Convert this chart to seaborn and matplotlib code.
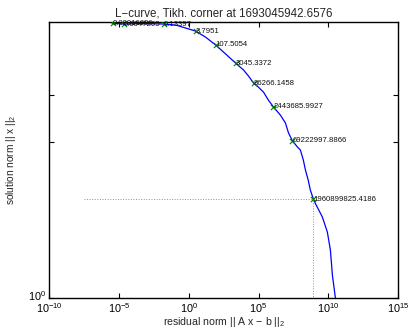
import numpy as np
import pandas as pd
import matplotlib
matplotlib.use("Agg")
import matplotlib.pyplot as plt
import matplotlib.transforms as mtransforms
import seaborn as sns

# L-curve samples: residual norm (rho) and solution norm (eta)
curve_rho = [3.2e-06, 2.3e-05, 3.7e-04, 1.6e-02, 1.2e-01, 6.2e-01, 3.16e+00,
             1.6e+01, 8.5e+01, 4.4e+02, 2.3e+03, 8.5e+03, 1.95e+04, 4.4e+04,
             1.0e+05, 2.3e+05, 5.1e+05, 1.17e+06, 3.7e+06, 8.5e+06, 1.4e+07,
             2.7e+07, 6.2e+07, 1.0e+08, 1.6e+08, 2.3e+08, 3.6e+08, 5.1e+08,
             8.5e+08, 1.35e+09, 3.7e+09, 8.5e+09, 1.4e+10, 1.95e+10,
             2.7e+10, 3.2e+10, 3.7e+10]
curve_eta = [1.995, 1.990, 1.993, 1.990, 1.985, 1.970, 1.955,
             1.926, 1.888, 1.846, 1.804, 1.773, 1.746, 1.716,
             1.698, 1.677, 1.644, 1.616, 1.583, 1.552, 1.514,
             1.484, 1.461, 1.450, 1.415, 1.379, 1.345, 1.312,
             1.282, 1.263, 1.226, 1.180, 1.128, 1.059,
             1.020, 1.000, 0.958]

# labelled regularization parameters and their points on the curve
marker_rho = [3.7e-06, 2.3e-05, 1.6e-02, 3.16e+00, 8.5e+01, 2.3e+03,
              4.4e+04, 1.17e+06, 2.7e+07, 8.5e+08]
marker_eta = [1.993, 1.990, 1.990, 1.955, 1.888, 1.804,
              1.716, 1.616, 1.484, 1.282]
marker_labels = ["0.00016696", "0.0047295", "0.13397", "3.7951", "107.5054",
                 "3045.3372", "86266.1458", "2443685.9927", "69222997.8866",
                 "1960899825.4186"]

corner_lambda = "1693045942.6576"
corner_rho = 8.5e+08
corner_eta = 1.282

sns.set_style("ticks")
plt.rcParams["font.family"] = ["Liberation Sans", "DejaVu Sans"]
plt.rcParams["mathtext.fontset"] = "custom"
plt.rcParams["mathtext.rm"] = "Liberation Sans"
plt.rcParams["mathtext.it"] = "Liberation Sans:italic"

fig = plt.figure(figsize=(4.08, 3.29), dpi=100)
ax = fig.add_axes([0.120, 0.094, 0.856, 0.839])

curve = pd.DataFrame({"rho": curve_rho, "eta": curve_eta})
marks = pd.DataFrame({"rho": marker_rho, "eta": marker_eta})

ax.set_xscale("log")
ax.set_yscale("log")

sns.lineplot(data=curve, x="rho", y="eta", sort=False, estimator=None,
             color="#0000ff", linewidth=0.9, ax=ax)
sns.scatterplot(data=marks, x="rho", y="eta", marker="x", color="#008000",
                s=14, linewidth=0.8, ax=ax, zorder=3)

for r, e, t in zip(marker_rho, marker_eta, marker_labels):
    ax.text(r, e, t, fontsize=5.6, ha="left", va="center", color="#111111")

# corner guide lines
rmin = min(curve_rho)
ax.plot([rmin / 100, corner_rho], [corner_eta, corner_eta], ":",
        color="#ff6060", linewidth=0.7)
ax.plot([corner_rho, corner_rho], [0.5, corner_eta], ":",
        color="#ff6060", linewidth=0.7)

ax.set_xlim(1e-10, 1e15)
ax.set_ylim(1.0, 2.0)
ax.set_xticks([1e-10, 1e-5, 1e0, 1e5, 1e10, 1e15])
ax.xaxis.set_minor_locator(matplotlib.ticker.NullLocator())
ax.set_yticks([1.0, 1.48, 1.665])
ax.set_yticklabels(["$10^0$", "", ""])
ax.yaxis.set_minor_locator(matplotlib.ticker.NullLocator())
ax.yaxis.set_minor_formatter(matplotlib.ticker.NullFormatter())

ax.tick_params(direction="in", length=3.5, width=0.8, labelsize=7.8,
               top=True, right=True, pad=2, colors="black")
# lift the y tick label slightly above its tick
lift = mtransforms.ScaledTranslation(0, 3 / 100, fig.dpi_scale_trans)
for lab in ax.get_yticklabels():
    lab.set_transform(lab.get_transform() + lift)
for s in ax.spines.values():
    s.set_visible(True)
    s.set_linewidth(1.0)
    s.set_color("black")

ax.set_xlabel("residual norm || A x \u2212 b ||$_2$", fontsize=7.6, labelpad=0)
ax.set_ylabel("solution norm || x ||$_2$", fontsize=7.3, labelpad=7)
ax.set_title("L\u2212curve, Tikh. corner at " + corner_lambda, fontsize=8.3, pad=4)

fig.savefig("out.png", dpi=100)
